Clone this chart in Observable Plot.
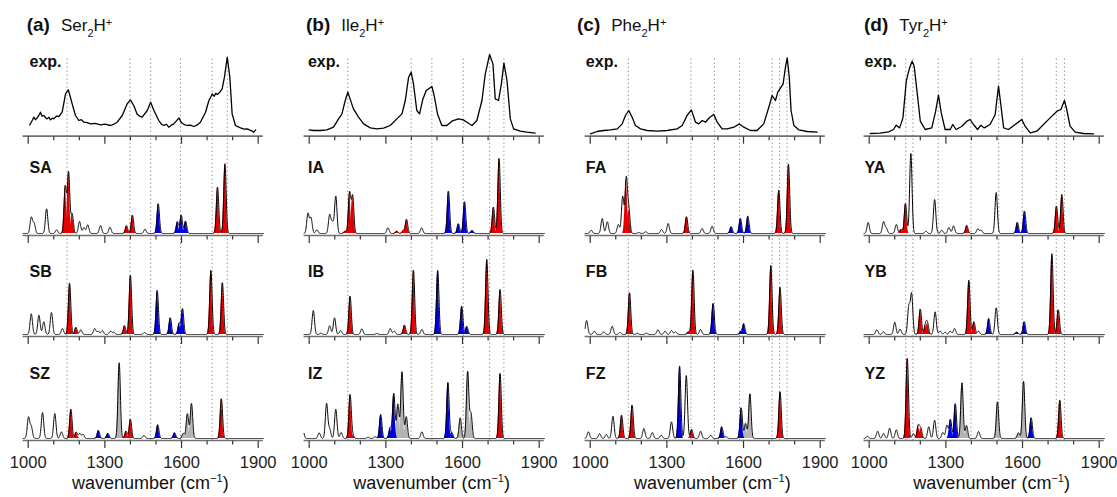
<!DOCTYPE html>
<html><head><meta charset="utf-8">
<script src="https://cdn.jsdelivr.net/npm/d3@7"></script>
<script src="https://cdn.jsdelivr.net/npm/@observablehq/plot@0.6"></script>
<style>
html,body{margin:0;padding:0;background:#fff;}
#fig{position:relative;width:1117px;height:497px;overflow:hidden;font-family:"Liberation Sans",Arial,Helvetica,sans-serif;color:#111;}
.col{position:absolute;top:45px;}
.title{position:absolute;top:14.6px;line-height:19px;white-space:nowrap;}
.title b{font-size:19px;}
.title .nm{font-size:17px;margin-left:11px;}
.sub{position:relative;top:6px;font-size:11px;}
.sup{position:relative;top:-5px;font-size:11px;}
.xlab{position:absolute;top:474px;font-size:18px;line-height:18px;transform:translateX(-50%);white-space:nowrap;}
.xlab .s{position:relative;top:-7px;font-size:11px;}
</style>
</head><body><div id="fig"></div>
<script>
// ---------- data ----------
const ticksAll = [1000,1100,1200,1300,1400,1500,1600,1700,1800,1900];
const ticksMajor = [1000,1300,1600,1900];

const panelLetters = ["(a)","(b)","(c)","(d)"];
const compoundNames = ["Ser","Ile","Phe","Tyr"];
const rowLabels = [["exp.","SA","SB","SZ"],["exp.","IA","IB","IZ"],["exp.","FA","FB","FZ"],["exp.","YA","YB","YZ"]];

// dotted reference lines (cm-1)
const guideSer = [1152,1398,1479,1596,1720,1779];
const guideIle = [1151,1399,1480,1603,1706,1762];
const guidePhe = [1149,1394,1486,1584,1712,1741,1770];
const guideTyr = [1143,1171,1270,1398,1507,1599,1732,1764];

// experimental spectra [wavenumber, intensity]
const expSer = [[1006,11.3],[1014,15],[1022,19],[1028,16.5],[1035,18.3],[1042,21],[1048,24],[1054,20],[1061,20.7],[1068,18.5],[1074,17.3],[1081,19],[1087,16.3],[1094,18],[1100,17.3],[1110,20],[1120,19.7],[1133,24],[1146,42.3],[1157,46.3],[1164,40],[1172,32.3],[1185,20.7],[1198,15.7],[1208,16.5],[1218,14],[1231,13.5],[1244,12.3],[1262,12.8],[1283,11.3],[1300,12],[1322,10.7],[1335,12],[1348,14],[1368,20.7],[1387,32.3],[1400,36.3],[1413,30.7],[1426,22.3],[1436,20],[1446,19],[1466,25.7],[1479,34],[1492,25.7],[1511,15.7],[1521,12],[1531,10.7],[1540,12],[1550,9],[1560,11],[1570,12.3],[1590,18.3],[1596,15],[1603,13],[1612,11.5],[1622,10.7],[1635,11],[1648,9.7],[1660,11],[1674,14],[1694,24],[1707,35.7],[1714,39],[1720,42.3],[1728,40],[1734,43],[1740,41.7],[1750,44],[1759,47.3],[1768,59],[1779,79],[1789,59],[1798,22.3],[1811,10.7],[1820,9.5],[1831,8.3],[1845,7],[1857,7.3],[1868,6],[1877,5],[1883,4],[1890,6.3]];
const expIle = [[1000,6.3],[1017,5.7],[1043,5.7],[1069,6.3],[1095,9],[1115,17.3],[1128,22.3],[1141,35.7],[1151,44],[1160,37.3],[1173,27.3],[1193,19],[1213,12.3],[1239,8.3],[1265,7.3],[1291,8],[1317,10.7],[1343,17.3],[1363,22.3],[1376,35.7],[1389,59],[1399,64],[1408,52.3],[1421,25.7],[1432,22.3],[1445,37.3],[1458,45.7],[1480,49.7],[1489,40.7],[1502,22.3],[1519,10.7],[1539,10.7],[1558,15],[1584,17.3],[1603,16.3],[1617,14],[1637,10.7],[1656,15.7],[1676,35.7],[1689,62.3],[1706,81.7],[1719,72.3],[1728,37.3],[1741,35.7],[1752,52.3],[1762,73],[1774,55.7],[1787,17.3],[1800,7.3],[1826,5],[1852,4],[1884,3]];
const expPhe = [[1001,2.3],[1027,4.7],[1053,5.7],[1080,6.3],[1106,7.3],[1125,12.3],[1138,20.7],[1151,25.7],[1164,19],[1177,10.7],[1197,7.3],[1223,5.7],[1262,5],[1301,5.7],[1340,7.3],[1360,10.7],[1379,20.7],[1396,26.3],[1412,14],[1425,12.3],[1438,15.7],[1451,14],[1468,19],[1484,21.7],[1497,14],[1516,7.3],[1536,7.3],[1562,9],[1584,12.3],[1601,9],[1627,5.7],[1653,5.7],[1679,12.3],[1699,29],[1712,40.7],[1725,35.7],[1734,44],[1745,48.3],[1755,52.3],[1764,69],[1771,78.3],[1779,59],[1786,25.7],[1797,10.7],[1817,6.3],[1849,4.7],[1888,4]];
const expTyr = [[1004,2.7],[1043,3],[1076,4.3],[1095,6.7],[1106,11],[1119,8.3],[1132,18.3],[1145,55],[1158,68.3],[1168,75],[1176,70],[1187,45],[1200,15],[1219,6.7],[1245,8.3],[1260,25],[1271,41],[1282,23.3],[1297,6.7],[1317,6.7],[1327,11.7],[1340,6.7],[1363,10],[1382,15],[1395,16.7],[1408,11.7],[1424,6.7],[1437,11],[1450,8.3],[1473,11.7],[1493,21.7],[1506,50],[1515,31.7],[1526,8.3],[1545,6.7],[1571,11.7],[1597,16.7],[1610,10],[1630,3.3],[1656,5],[1682,11.7],[1708,18.3],[1735,25],[1750,26.7],[1764,35.7],[1773,26.7],[1786,10],[1806,4],[1839,2.7],[1878,2.3]];

// computed stick spectra [wavenumber, intensity, class]  r = red, b = blue, g = grey, k = unfilled
const SA = [[1012,16,"k"],[1023,10,"k"],[1072,24.7,"k"],[1111,3.7,"k"],[1145,47,"r"],[1158,61,"r"],[1172,19.7,"r"],[1201,12,"k"],[1218,6,"k"],[1233,8.7,"k"],[1283,8,"k"],[1320,6.3,"k"],[1385,7.7,"r"],[1408,18.3,"r"],[1457,4.3,"k"],[1509,29.7,"b"],[1584,11.7,"b"],[1599,18.3,"b"],[1616,12.3,"b"],[1741,46.3,"r"],[1770,69.7,"r"]];
const SB = [[1012,20.7,"k"],[1042,19.3,"k"],[1061,12.7,"k"],[1091,22,"k"],[1134,6,"k"],[1162,51.3,"r"],[1187,7,"r"],[1206,4.7,"k"],[1260,6,"k"],[1274,3.3,"k"],[1290,4,"k"],[1322,3.3,"k"],[1335,2.3,"k"],[1377,8.7,"r"],[1400,59,"r"],[1455,2,"k"],[1505,44,"b"],[1556,16.7,"b"],[1591,11.3,"b"],[1604,25.7,"b"],[1715,64,"r"],[1760,51.7,"r"]];
const SZ = [[1001,21,"k"],[1012,11.7,"k"],[1056,26,"k"],[1104,25,"k"],[1130,6.7,"k"],[1167,29.3,"r"],[1188,6.3,"r"],[1202,5,"k"],[1215,4,"k"],[1275,8,"b"],[1312,5,"b"],[1356,75.7,"g"],[1383,7.3,"r"],[1400,19.3,"r"],[1453,3,"k"],[1507,13.7,"b"],[1573,5.7,"b"],[1607,5,"g"],[1623,24.7,"g"],[1639,35,"g"],[1756,39.7,"r"]];
const IA = [[995,20,"k"],[1007,15.7,"k"],[1030,3.7,"k"],[1080,18.7,"k"],[1091,10.7,"k"],[1104,37.3,"k"],[1141,2.3,"r"],[1158,40.7,"r"],[1170,37.3,"r"],[1308,5.7,"k"],[1343,2.3,"r"],[1369,3,"r"],[1381,14,"r"],[1440,5.7,"k"],[1545,42.3,"b"],[1584,9.7,"b"],[1608,31.7,"b"],[1638,3,"b"],[1721,26.3,"r"],[1743,75,"r"]];
const IB = [[1016,24,"k"],[1046,1.3,"k"],[1080,8.7,"k"],[1099,16.7,"k"],[1123,4,"k"],[1160,38.3,"r"],[1206,5.7,"k"],[1265,1,"k"],[1317,6,"k"],[1333,3.3,"k"],[1373,9.3,"r"],[1408,64.3,"r"],[1441,5,"k"],[1503,64,"b"],[1597,28.3,"b"],[1617,8,"b"],[1695,75,"r"],[1747,45,"r"]];
const IZ = [[975,9,"k"],[1039,5.7,"k"],[1068,35,"k"],[1080,9.3,"k"],[1104,29.3,"k"],[1125,6,"k"],[1160,43.7,"r"],[1170,3.3,"r"],[1230,1.3,"k"],[1258,1.7,"k"],[1280,24,"b"],[1317,10.7,"b"],[1331,45,"b"],[1347,34.3,"g"],[1363,66.7,"g"],[1380,21.7,"g"],[1441,6.7,"k"],[1543,56,"b"],[1558,6,"b"],[1591,20.7,"g"],[1620,66.7,"g"],[1633,25,"g"],[1747,65,"r"]];
const FA = [[1004,3.3,"k"],[1047,15,"k"],[1067,11.7,"k"],[1110,9,"k"],[1127,36.7,"k"],[1141,54.3,"r"],[1151,23.3,"r"],[1190,1,"k"],[1217,1.7,"k"],[1279,4,"k"],[1305,10,"k"],[1377,16.7,"r"],[1438,5,"k"],[1477,7.3,"k"],[1552,6.7,"b"],[1588,15,"b"],[1617,17.3,"b"],[1738,43.3,"r"],[1776,69.3,"r"]];
const FB = [[986,14,"k"],[1016,3.3,"k"],[1053,2.7,"k"],[1086,8.3,"k"],[1116,2,"k"],[1154,41.7,"r"],[1184,1.3,"k"],[1220,1.3,"k"],[1265,4.7,"k"],[1293,3.3,"k"],[1318,4,"k"],[1334,2.7,"k"],[1385,2.7,"r"],[1402,64.3,"r"],[1432,5,"k"],[1481,31,"b"],[1590,3,"b"],[1601,10.7,"b"],[1707,69,"r"],[1743,47.3,"r"]];
const FZ = [[993,6.7,"k"],[1037,4.7,"k"],[1063,4,"k"],[1089,22.3,"k"],[1123,23.3,"r"],[1164,33.3,"r"],[1210,10,"k"],[1243,6,"k"],[1278,3.3,"k"],[1318,16.7,"k"],[1350,72.3,"b"],[1376,63,"k"],[1397,9,"r"],[1432,7.3,"k"],[1471,3.3,"k"],[1515,11.7,"b"],[1532,1.7,"k"],[1591,30.7,"b"],[1608,15,"g"],[1625,44.7,"g"],[1743,46.7,"r"]];
const YA = [[996,11,"k"],[1056,11.7,"k"],[1067,5,"k"],[1106,9,"k"],[1125,4,"r"],[1142,30,"r"],[1163,80,"k"],[1222,2.3,"k"],[1256,34,"k"],[1284,3.3,"k"],[1312,6,"k"],[1330,7.7,"k"],[1382,8,"r"],[1425,4.7,"k"],[1438,3.3,"k"],[1497,41,"k"],[1580,11,"b"],[1608,22.3,"b"],[1733,27.3,"r"],[1754,39,"r"]];
const YB = [[1030,4.7,"k"],[1056,2.7,"k"],[1100,12.3,"k"],[1121,5.3,"k"],[1155,27.3,"k"],[1166,40,"k"],[1200,25.3,"r"],[1220,9.3,"r"],[1228,11,"r"],[1258,22.7,"k"],[1278,3.3,"k"],[1297,2.3,"k"],[1317,3.3,"k"],[1334,6,"k"],[1390,54.3,"r"],[1410,12.7,"r"],[1428,3.3,"k"],[1468,16,"b"],[1497,26.7,"k"],[1578,2.3,"b"],[1607,12.7,"b"],[1715,80.7,"r"],[1740,24.7,"r"]];
const YZ = [[993,2.3,"k"],[1033,7.3,"k"],[1056,5,"k"],[1080,10.3,"k"],[1106,8.7,"k"],[1149,80,"r"],[1173,5,"k"],[1192,13,"r"],[1202,10,"r"],[1233,11.7,"k"],[1256,18.3,"k"],[1288,6,"k"],[1304,13.3,"k"],[1318,19,"b"],[1337,34.7,"b"],[1363,55.7,"g"],[1381,13,"g"],[1428,7,"k"],[1502,36.7,"g"],[1584,5.7,"g"],[1604,57.3,"g"],[1634,20.7,"b"],[1746,38.3,"r"]];

const columns = [
  {exp: expSer, calc: [SA, SB, SZ], guides: guideSer},
  {exp: expIle, calc: [IA, IB, IZ], guides: guideIle},
  {exp: expPhe, calc: [FA, FB, FZ], guides: guidePhe},
  {exp: expTyr, calc: [YA, YB, YZ], guides: guideTyr}
];

// ---------- layout / style ----------
const X0 = 980, X1 = 1920;
const W = 281, ML = 22.6, PW = 240.2;
const colLeft = [0, 281.3, 562, 841.3];
const titleLeft = [26.7, 306, 577, 864];
const labelX = [1005, 995, 983, 982];
const rowOff = [304.3, 205, 104, 0];   // exp, A, B, Z baselines (px units)
const labelLift = [69, 63, 60, 62];
const BASE = 2;                        // computed trace offset above axis
const FWHM = 11, SIG = FWHM / 2.3548;  // line shape used to broaden sticks
const COLORS = {r: "#e40000", b: "#0000e0", g: "#b4b4b4"};

const fig = document.getElementById("fig");
const grid = d3.range(X0, X1 + 0.001, 0.5);
const gauss = (x, p, h) => h * Math.exp(-((x - p) ** 2) / (2 * SIG * SIG));

columns.forEach((col, ci) => {
  const totals = [], fills = [];
  col.calc.forEach((peaks, ri) => {
    const off = rowOff[ri + 1];
    for (const x of grid) {
      let s = 0;
      for (const [p, h] of peaks) s += gauss(x, p, h);
      totals.push({row: ri, x, y: off + BASE + s});
    }
    peaks.forEach(([p, h, c], pi) => {
      if (c === "k") return;
      for (const x of d3.range(Math.max(X0, p - 14), Math.min(X1, p + 14) + 0.001, 0.25)) {
        fills.push({id: ri + "-" + pi, c, x, y1: off + BASE, y2: off + BASE + gauss(x, p, h)});
      }
    });
  });
  const tickData = rowOff.flatMap(off => ticksAll.map(w => ({w, off, major: ticksMajor.includes(w)})));
  const labels = rowLabels[ci].map((t, ri) => ({t, y: rowOff[ri] + labelLift[ri]}));
  const expData = col.exp.map(([x, y]) => ({x, y: rowOff[0] + y}));

  const chart = Plot.plot({
    width: W, height: 437,
    marginLeft: ML, marginRight: W - ML - PW, marginTop: 0, marginBottom: 30,
    x: {domain: [X0, X1]},
    y: {domain: [-12, 395], axis: null},
    style: {fontFamily: '"Liberation Sans", Arial, sans-serif', background: "transparent", color: "#111", overflow: "visible"},
    marks: [
      Plot.ruleX(col.guides, {x: d => d, y1: 0, y2: 383, stroke: "#9a9a9a", strokeWidth: 1, strokeDasharray: "1.5,2.5"}),
      Plot.ruleY(rowOff, {y: d => d, x1: X0, x2: X1, stroke: "#707070", strokeWidth: 1.7}),
      Plot.ruleX(tickData, {x: "w", y1: d => d.off - (d.major ? 8 : 4.5), y2: d => d.off - 0.8, stroke: "#333", strokeWidth: 1.2}),
      ...["g", "b", "r"].map(c => Plot.areaY(fills.filter(d => d.c === c), {x: "x", y1: "y1", y2: "y2", z: "id", fill: COLORS[c]})),
      Plot.line(totals, {x: "x", y: "y", z: "row", stroke: "#000", strokeWidth: 1}),
      Plot.line(expData, {x: "x", y: "y", stroke: "#000", strokeWidth: 1.3}),
      Plot.text(labels, {x: labelX[ci], y: "y", text: "t", textAnchor: "start", lineAnchor: "bottom", fontSize: 16, fontWeight: "bold", fill: "#111"}),
      Plot.axisX({ticks: ticksMajor, tickSize: 0, tickPadding: 4, fontSize: 16.5, label: null, tickFormat: d => String(d), fill: "#222"})
    ]
  });
  chart.classList.add("col");
  chart.style.left = colLeft[ci] + "px";
  fig.appendChild(chart);

  const t = document.createElement("div");
  t.className = "title";
  t.style.left = titleLeft[ci] + "px";
  t.innerHTML = `<b>${panelLetters[ci]}</b><span class="nm">${compoundNames[ci]}<span class="sub">2</span>H<span class="sup">+</span></span>`;
  fig.appendChild(t);

  const xl = document.createElement("div");
  xl.className = "xlab";
  xl.style.left = (colLeft[ci] + ML + (1480 - X0) * PW / (X1 - X0)) + "px";
  xl.innerHTML = `wavenumber (cm<span class="s">\u22121</span>)`;
  fig.appendChild(xl);
});
</script></body></html>
